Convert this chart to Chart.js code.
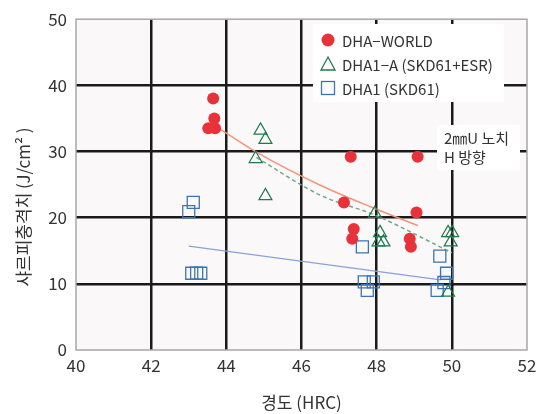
<!DOCTYPE html>
<html>
<head>
<meta charset="utf-8">
<script src="https://cdn.jsdelivr.net/npm/chart.js@4"></script>
<style>
  body { margin: 0; background: #ffffff; }
  #wrap { width: 547px; height: 414px; }
</style>
</head>
<body>
<div id="wrap"><canvas id="impactChart"></canvas></div>
<script>
var worldX = [43.65, 43.68, 43.52, 43.7, 47.31, 49.09, 47.13, 49.06, 47.39, 47.35, 48.88, 48.91];
var worldY = [38, 35, 33.5, 33.5, 29.2, 29.2, 22.3, 20.8, 18.3, 16.8, 16.8, 15.6];
var esrX = [44.91, 45.04, 44.78, 45.04, 47.95, 48.09, 48.05, 48.18, 49.9, 50.01, 49.97, 49.9];
var esrY = [33.2, 31.8, 28.9, 23.3, 20.6, 17.7, 16.3, 16.3, 17.7, 17.7, 16.3, 8.7];
var skdX = [43.12, 43.0, 43.08, 43.21, 43.32, 47.62, 47.67, 47.91, 47.75, 49.68, 49.86, 49.79, 49.61];
var skdY = [22.3, 20.9, 11.6, 11.6, 11.6, 15.6, 10.3, 10.3, 9.0, 14.2, 11.6, 10.2, 9.0];

// trend lines
var worldFitX = [43.8, 44.8, 46.5, 47.9, 49.1];
var worldFitY = [33.5, 29.9, 24.9, 21.5, 18.8];
var esrFitX = [44.8, 46.5, 47.95, 50];
var esrFitY = [29.1, 23.4, 20.4, 14.7];
var skdFitX = [43, 49.7];
var skdFitY = [15.7, 10.6];

var xTicks = [40, 42, 44, 46, 48, 50, 52];
var yTicks = [0, 10, 20, 30, 40, 50];
var labels = ["DHA\u2212WORLD", "DHA1\u2212A (SKD61+ESR)", "DHA1 (SKD61)"];

var red = "#e8323a", green = "#1f7a4e", blue = "#3a74b4";
var font = "'Noto Sans CJK KR', 'Noto Sans', sans-serif";

function pts(xs, ys) {
  return xs.map(function (x, i) { return { x: x, y: ys[i] }; });
}

// background, border, legend box, note box and axis titles
var decor = {
  id: "decor",
  beforeDraw: function (chart) {
    var c = chart.ctx, a = chart.chartArea;
    c.save();
    c.fillStyle = "#faf8f9";
    c.fillRect(a.left, a.top, a.right - a.left, a.bottom - a.top);
    c.restore();
  },
  afterDraw: function (chart) {
    var c = chart.ctx, a = chart.chartArea;
    c.save();
    c.strokeStyle = "#a8a8a8";
    c.lineWidth = 1.5;
    c.strokeRect(a.left, a.top, a.right - a.left, a.bottom - a.top);

    // legend
    c.fillStyle = "#ffffff";
    c.fillRect(313, 24, 191, 78);
    c.font = "15px " + font;
    c.textBaseline = "middle";
    c.fillStyle = "#333333";
    var ys = [40, 64, 88];
    labels.forEach(function (t, i) { c.fillText(t, 342, ys[i] + 1); });
    c.fillStyle = red;
    c.beginPath(); c.arc(328, 40, 6.5, 0, Math.PI * 2); c.fill();
    c.strokeStyle = green; c.lineWidth = 1.3;
    c.beginPath(); c.moveTo(328, 57); c.lineTo(335, 70); c.lineTo(321, 70); c.closePath(); c.stroke();
    c.strokeStyle = blue;
    c.strokeRect(321.5, 81.5, 13, 13);

    // note
    c.fillStyle = "#ffffff";
    c.fillRect(437, 125, 83, 45);
    c.fillStyle = "#333333";
    c.fillText("2\u339cU \ub178\uce58", 444, 138);
    c.fillText("H \ubc29\ud5a5", 444, 157);

    // axis titles
    c.font = "17px " + font;
    c.textAlign = "center";
    c.fillText("\uacbd\ub3c4 (HRC)", (a.left + a.right) / 2, 403);
    c.translate(24, 207);
    c.rotate(-Math.PI / 2);
    c.fillText("\uc0e4\ub974\ud53c\ucda9\uaca9\uce58 (J/cm\u00b2 )", 0, 0);
    c.restore();
  }
};

function gridColor(ctx) {
  var v = ctx.tick && ctx.tick.value;
  if (v === undefined) return "transparent";
  return (ctx.scale.axis === "x" ? (v === 40 || v === 52) : (v === 0 || v === 50)) ? "transparent" : "#1a1a1a";
}

var ctx = document.getElementById("impactChart").getContext("2d");
var chart = new Chart(ctx, {
  type: "scatter",
  data: {
    datasets: [
      { label: labels[0], data: pts(worldX, worldY), pointStyle: "circle", pointRadius: 6,
        backgroundColor: red, borderColor: red, borderWidth: 0 },
      { label: labels[1], data: pts(esrX, esrY), pointStyle: "triangle", pointRadius: 7.5,
        backgroundColor: "transparent", borderColor: green, borderWidth: 1.2 },
      { label: labels[2], data: pts(skdX, skdY), pointStyle: "rect", pointRadius: 8.5,
        backgroundColor: "transparent", borderColor: blue, borderWidth: 1.3 },
      { data: pts(worldFitX, worldFitY), showLine: true, pointRadius: 0, borderColor: "#f4947c",
        borderWidth: 1.5, cubicInterpolationMode: "monotone" },
      { data: pts(esrFitX, esrFitY), showLine: true, pointRadius: 0, borderColor: "#6ea889",
        borderWidth: 1.5, borderDash: [4, 3], cubicInterpolationMode: "monotone" },
      { data: pts(skdFitX, skdFitY), showLine: true, pointRadius: 0, borderColor: "#8aa2d6",
        borderWidth: 1.5 }
    ]
  },
  options: {
    responsive: true,
    maintainAspectRatio: false,
    animation: false,
    layout: { padding: { top: 15, right: 20, left: 0, bottom: 0 } },
    plugins: { legend: { display: false }, tooltip: { enabled: false } },
    scales: {
      x: {
        min: 40, max: 52,
        afterFit: function (s) { s.height = 64; },
        afterBuildTicks: function (s) { s.ticks = xTicks.map(function (v) { return { value: v }; }); },
        ticks: { color: "#333333", padding: 5, font: { size: 17, family: font } },
        grid: { color: gridColor, lineWidth: 2.5, drawTicks: false },
        border: { display: false }
      },
      y: {
        min: 0, max: 50,
        afterFit: function (s) { s.width = 76; },
        afterBuildTicks: function (s) { s.ticks = yTicks.map(function (v) { return { value: v }; }); },
        ticks: { color: "#333333", padding: 9, font: { size: 17, family: font } },
        grid: { color: gridColor, lineWidth: 2.5, drawTicks: false },
        border: { display: false }
      }
    }
  },
  plugins: [decor]
});
</script>
</body>
</html>
